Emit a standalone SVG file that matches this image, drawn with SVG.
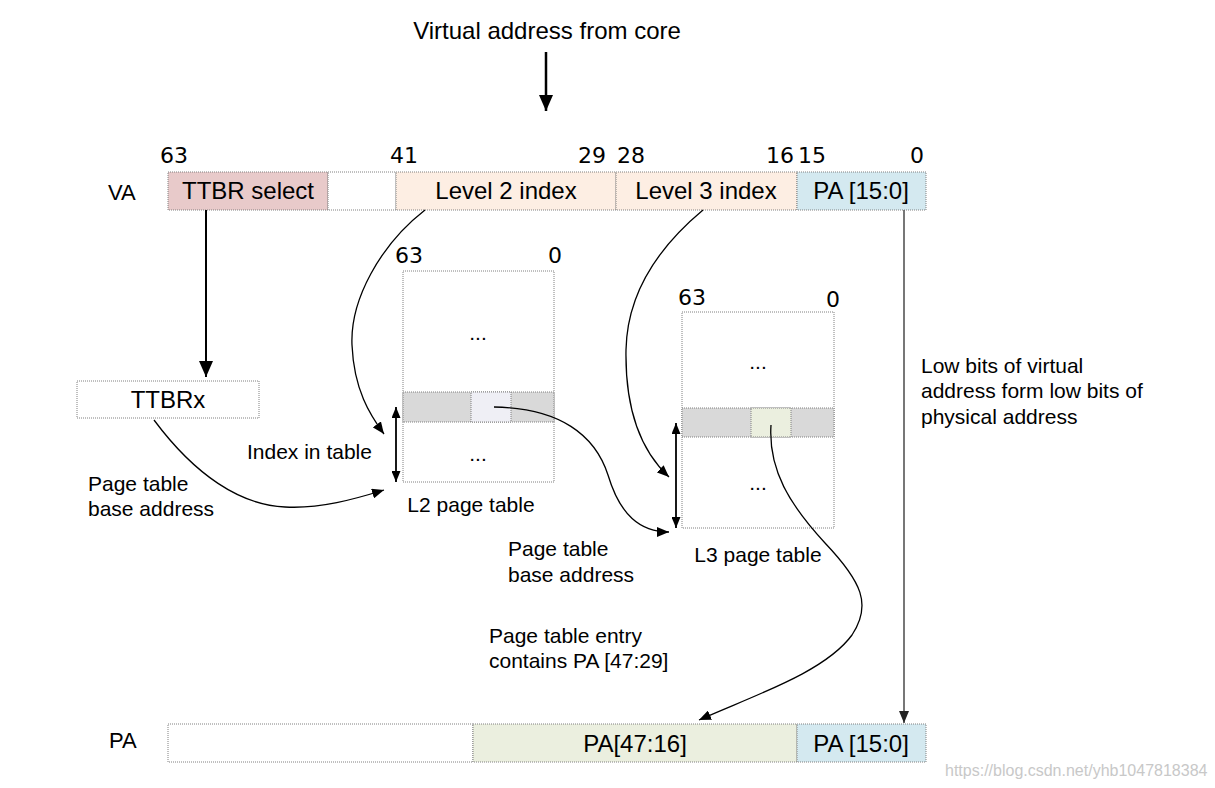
<svg xmlns="http://www.w3.org/2000/svg" width="1215" height="788" viewBox="0 0 1215 788">
<defs>
<marker id="ah" viewBox="0 0 12 10" refX="12" refY="5" markerWidth="12" markerHeight="10" markerUnits="userSpaceOnUse" orient="auto-start-reverse">
<path d="M0,0 L12,5 L0,10 Z" fill="#000"/>
</marker>
<marker id="ahb" viewBox="0 0 16 14" refX="16" refY="7" markerWidth="16" markerHeight="14" markerUnits="userSpaceOnUse" orient="auto-start-reverse">
<path d="M0,0 L16,7 L0,14 Z" fill="#000"/>
</marker>
<marker id="ahg" viewBox="0 0 12 10" refX="12" refY="5" markerWidth="12" markerHeight="10" markerUnits="userSpaceOnUse" orient="auto-start-reverse">
<path d="M0,0 L12,5 L0,10 Z" fill="#222"/>
</marker>
<marker id="ahs" viewBox="0 0 11 9" refX="11" refY="4.5" markerWidth="11" markerHeight="9" markerUnits="userSpaceOnUse" orient="auto-start-reverse">
<path d="M0,0 L11,4.5 L0,9 Z" fill="#000"/>
</marker>
<style>
.t{font-family:"Liberation Sans",Arial,sans-serif;fill:#000}
.big{font-size:24px}
.mid{font-size:21px}
.num{font-family:"DejaVu Sans",sans-serif;font-size:22px;fill:#000}
.box{stroke:#808080;stroke-width:1;stroke-dasharray:1 1}
.c{text-anchor:middle}
.ln{fill:none;stroke:#000;stroke-width:1.3}
</style>
</defs>
<rect width="1215" height="788" fill="#fff"/>

<g id="title">
<text class="t big c" x="547" y="39">Virtual address from core</text>
</g>

<g id="va">
<text class="t mid" x="108" y="200" style="font-size:22px">VA</text>
<rect class="box" x="168" y="172" width="160" height="38" fill="#e8caca"/>
<rect class="box" x="328" y="172" width="68" height="38" fill="#fff"/>
<rect class="box" x="396" y="172" width="220" height="38" fill="#fdeee3"/>
<rect class="box" x="616" y="172" width="181" height="38" fill="#fdeee3"/>
<rect class="box" x="797" y="172" width="129" height="38" fill="#d4e9f0"/>
<text class="t big c" x="248" y="199">TTBR select</text>
<text class="t big c" x="506" y="199">Level 2 index</text>
<text class="t big c" x="706" y="199">Level 3 index</text>
<text class="t big c" x="861" y="199">PA [15:0]</text>
<text class="num" x="160" y="163">63</text>
<text class="num" x="390" y="163">41</text>
<text class="num" x="578" y="163">29</text>
<text class="num" x="617" y="163">28</text>
<text class="num" x="766" y="163">16</text>
<text class="num" x="798" y="163">15</text>
<text class="num" x="910" y="163">0</text>
</g>

<g id="ttbrx">
<rect class="box" x="77" y="381" width="182" height="37" fill="#fff"/>
<text class="t big c" x="168" y="408">TTBRx</text>
</g>

<g id="l2">
<rect class="box" x="403" y="271" width="151" height="211" fill="#fff"/>
<rect class="box" x="403" y="392" width="151" height="30" fill="#d9d9d9"/>
<rect class="box" x="471" y="392" width="40" height="30" fill="#efeff5"/>
<text class="t mid c" x="478" y="340">...</text>
<text class="t mid c" x="478" y="461">...</text>
<text class="num" x="395" y="263">63</text>
<text class="num" x="548" y="263">0</text>
<text class="t mid c" x="471" y="512">L2 page table</text>
</g>

<g id="l3">
<rect class="box" x="682" y="312" width="152" height="216" fill="#fff"/>
<rect class="box" x="682" y="408" width="152" height="29" fill="#d9d9d9"/>
<rect class="box" x="751" y="408" width="40" height="29" fill="#ebefdf"/>
<text class="t mid c" x="758" y="369">...</text>
<text class="t mid c" x="758" y="490">...</text>
<text class="num" x="678" y="305">63</text>
<text class="num" x="826" y="307">0</text>
<text class="t mid c" x="758" y="562">L3 page table</text>
</g>

<g id="pa">
<text class="t mid" x="109" y="748" style="font-size:22px">PA</text>
<rect class="box" x="168" y="724" width="305" height="38" fill="#fff"/>
<rect class="box" x="473" y="724" width="324" height="38" fill="#ebefdf"/>
<rect class="box" x="797" y="724" width="129" height="38" fill="#d4e9f0"/>
<text class="t big c" x="635" y="752">PA[47:16]</text>
<text class="t big c" x="861" y="752">PA [15:0]</text>
</g>

<g id="labels">
<text class="t mid" x="247" y="459">Index in table</text>
<text class="t mid" x="88" y="491">Page table</text>
<text class="t mid" x="88" y="516">base address</text>
<text class="t mid" x="508" y="556">Page table</text>
<text class="t mid" x="508" y="582">base address</text>
<text class="t mid" x="489" y="643">Page table entry</text>
<text class="t mid" x="489" y="668">contains PA [47:29]</text>
<text class="t mid" x="921" y="373">Low bits of virtual</text>
<text class="t mid" x="921" y="398">address form low bits of</text>
<text class="t mid" x="921" y="424">physical address</text>
<text class="t" x="945" y="776" style="font-size:16px;fill:#c8c8c8">https://blog.csdn.net/yhb1047818384</text>
</g>

<g id="connectors">
<line class="ln" x1="546" y1="52" x2="546" y2="111" style="stroke-width:2.5" marker-end="url(#ahb)"/>
<line class="ln" x1="206" y1="210" x2="206" y2="377" style="stroke-width:2" marker-end="url(#ahb)"/>
<line x1="904" y1="210" x2="904" y2="723" style="stroke:#555;stroke-width:1.6" marker-end="url(#ahg)"/>
<path class="ln" d="M425,210 C380,245 350,300 352,345 C354,390 370,415 384,434" marker-end="url(#ah)"/>
<path class="ln" d="M154,420 C195,475 240,505 285,507 C320,509 355,499 384,490" marker-end="url(#ah)"/>
<path class="ln" d="M494,407 C560,408 595,435 608,475 C620,515 640,532 669,532" marker-end="url(#ah)"/>
<path class="ln" d="M703,210 C655,250 627,295 626,350 C625,410 640,450 669,477" marker-end="url(#ah)"/>
<path class="ln" d="M771,425 C768,470 790,505 825,543 C862,582 872,605 852,635 C825,672 755,695 699,720" marker-end="url(#ah)"/>
<line class="ln" x1="396" y1="407" x2="396" y2="482" style="stroke-width:1.8" marker-start="url(#ahs)" marker-end="url(#ahs)"/>
<line class="ln" x1="676" y1="423" x2="676" y2="528" style="stroke-width:1.8" marker-start="url(#ahs)" marker-end="url(#ahs)"/>
</g>
</svg>
